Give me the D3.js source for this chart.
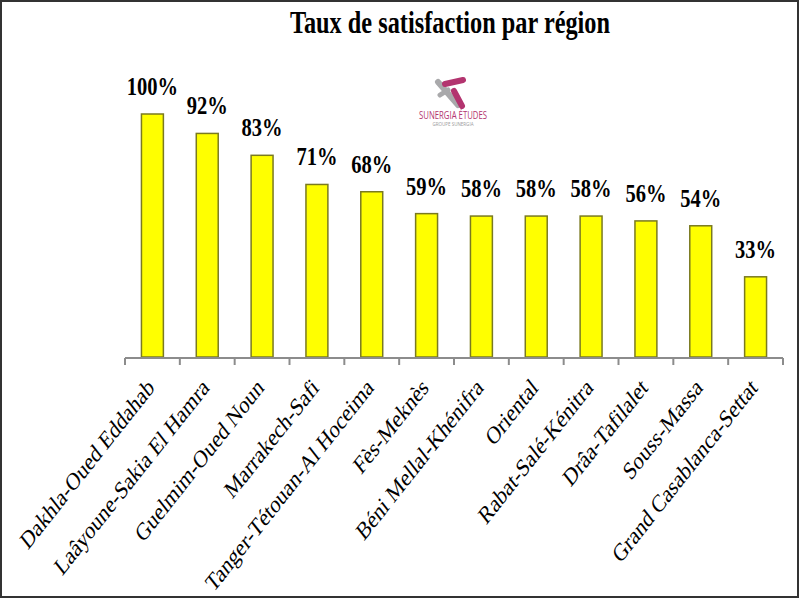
<!DOCTYPE html>
<html>
<head>
<meta charset="utf-8">
<script src="https://cdn.jsdelivr.net/npm/d3@7"></script>
<style>
  body { margin: 0; background: #fff; }
  svg { display: block; }
  .serif { font-family: "Liberation Serif", "Times New Roman", serif; }
  .sans { font-family: "Open Sans", "DejaVu Sans", sans-serif; }
</style>
</head>
<body>
<svg id="chart" width="800" height="600"></svg>
<script>
const regions = [
  "Dakhla-Oued Eddahab", "Laâyoune-Sakia El Hamra", "Guelmim-Oued Noun",
  "Marrakech-Safi", "Tanger-Tétouan-Al Hoceima", "Fès-Meknès",
  "Béni Mellal-Khénifra", "Oriental", "Rabat-Salé-Kénitra",
  "Drâa-Tafilalet", "Souss-Massa", "Grand Casablanca-Settat"
];
const rates = [100, 92, 83, 71, 68, 59, 58, 58, 58, 56, 54, 33];
const title = "Taux de satisfaction par région";

// the source picture is squeezed horizontally, so the text is squeezed too
const squeeze = 0.79;

const svg = d3.select("#chart");
const baseY = 357;

const x = d3.scaleBand()
  .domain(regions)
  .range([125, 783])
  .paddingInner(0.6)
  .paddingOuter(0.3);

const y = d3.scaleLinear()
  .domain([0, 100])
  .range([baseY, 114]);

// frame
svg.append("rect")
  .attr("x", 1).attr("y", 1)
  .attr("width", 797).attr("height", 596)
  .attr("fill", "none")
  .attr("stroke", "#333")
  .attr("stroke-width", 2);

svg.append("g")
  .attr("transform", "translate(450, 33) scale(0.76, 1)")
  .append("text")
  .attr("class", "serif")
  .attr("text-anchor", "middle")
  .attr("font-size", 32)
  .attr("font-weight", "bold")
  .text(title);

// logo
const logo = svg.append("g").attr("transform", "translate(453, 0)");
const stroke = (x1, y1, x2, y2, c, w) => logo.append("line")
  .attr("x1", x1).attr("y1", y1).attr("x2", x2).attr("y2", y2)
  .attr("stroke", c).attr("stroke-width", w).attr("stroke-linecap", "round");
stroke(-15, 82, 5, 105, "#a9a9ab", 6);
stroke(-13, 95, -5, 90, "#a9a9ab", 5);
stroke(-8, 84, 10, 80, "#b3346f", 6);
stroke(1, 91, 9, 106, "#b3346f", 6);
logo.append("g")
  .attr("transform", "translate(0, 119) scale(0.74, 1)")
  .append("text")
  .attr("class", "sans")
  .attr("text-anchor", "middle")
  .attr("font-size", 10.5)
  .attr("fill", "#b3346f")
  .text("SUNERGIA ÉTUDES");
logo.append("text")
  .attr("class", "sans")
  .attr("x", 0).attr("y", 126)
  .attr("text-anchor", "middle")
  .attr("font-size", 4.5)
  .attr("fill", "#999")
  .text("GROUPE SUNERGIA");

// bars
svg.append("g")
  .selectAll("rect")
  .data(rates)
  .join("rect")
  .attr("x", (d, i) => x(regions[i]))
  .attr("y", d => y(d))
  .attr("width", x.bandwidth())
  .attr("height", d => baseY - y(d))
  .attr("fill", "#ffff00")
  .attr("stroke", "#7a7a20")
  .attr("stroke-width", 1.5);

// value labels
svg.append("g")
  .selectAll("g")
  .data(rates)
  .join("g")
  .attr("transform", (d, i) =>
    `translate(${x(regions[i]) + x.bandwidth() / 2}, ${y(d) - 19}) scale(${squeeze}, 1)`)
  .append("text")
  .attr("class", "serif")
  .attr("text-anchor", "middle")
  .attr("font-size", 26)
  .attr("font-weight", "bold")
  .text(d => d + "%");

// axis line with ticks on category boundaries
const [r0, r1] = x.range();
const edges = d3.range(regions.length + 1).map(i => r0 + i * x.step());
const axis = svg.append("g").attr("transform", `translate(0, ${baseY + 1})`);
axis.append("line")
  .attr("x1", r0).attr("x2", r1)
  .attr("stroke", "#8c8c8c").attr("stroke-width", 2);
axis.selectAll(".tick")
  .data(edges)
  .join("line")
  .attr("class", "tick")
  .attr("x1", d => d).attr("x2", d => d)
  .attr("y1", 0).attr("y2", 7)
  .attr("stroke", "#8c8c8c").attr("stroke-width", 2);

// rotated category labels
svg.append("g")
  .selectAll("g")
  .data(regions)
  .join("g")
  .attr("transform", d =>
    `translate(${x(d) + x.bandwidth() / 2 + 3}, ${baseY + 32}) scale(${squeeze}, 1) rotate(-45)`)
  .append("text")
  .attr("class", "serif")
  .attr("text-anchor", "end")
  .attr("font-size", 25)
  .text(d => d);
</script>
</body>
</html>
